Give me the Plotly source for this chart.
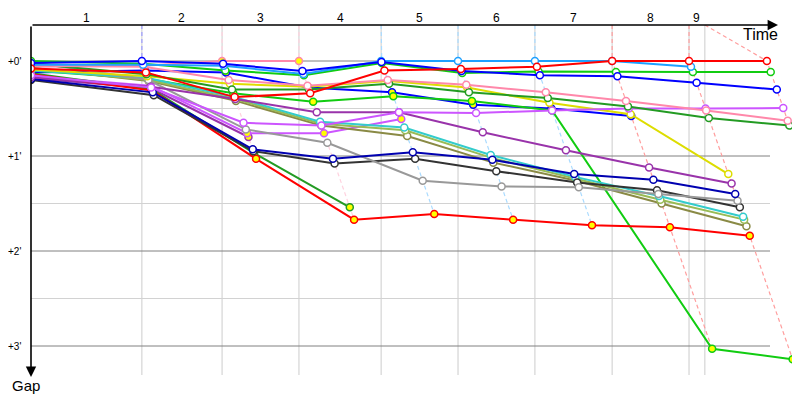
import plotly.graph_objects as go

# ── data ────────────────────────────────────────────────────────────
# time (min) at which the leader passes each checkpoint, C0 = start
checkpoint_times = [0.0, 3.36, 5.79, 8.12, 10.61, 12.94, 15.27, 17.61, 19.94, 22.30]
lap_marks = [3.36, 5.79, 8.12, 10.61, 12.94, 15.27, 17.61, 19.94, 20.42]
lap_labels = ["1", "2", "3", "4", "5", "6", "7", "8", "9"]
gap_ticks = [0, 1, 2, 3]
gap_tick_text = ["+0'", "+1'", "+2'", "+3'"]

N = None
# gap to leader (min) at C0..C9
gaps_red       = [0.08, 0.12, 0.38, 0.34, 0.10, 0.085, 0.06, 0.0, 0.0, 0.0]
gaps_blue      = [0.02, 0.0, 0.03, 0.105, 0.01, 0.105, 0.15, 0.16, 0.23, 0.30]
gaps_sky       = [0.04, 0.04, 0.05, 0.137, 0.0, 0.0, 0.0, 0.0, 0.06, N]
gaps_lime      = [0.0, 0.03, 0.10, 0.15, 0.02, 0.126, 0.11, 0.116, 0.116, 0.116]
gaps_pink      = [0.05, 0.06, 0.20, 0.26, 0.20, 0.25, 0.33, 0.42, 0.52, 0.63]
gaps_forest    = [0.03, 0.14, 0.30, 0.30, 0.24, 0.33, 0.39, 0.48, 0.60, 0.68]
gaps_magenta   = [0.15, 0.28, 0.65, 0.68, 0.54, 0.547, 0.52, 0.50, 0.50, 0.495]
gaps_yellow    = [0.09, 0.16, 0.24, 0.27, 0.21, 0.28, 0.44, 0.56, 1.19, N]
gaps_purple    = [0.17, 0.27, 0.40, 0.54, 0.54, 0.75, 0.94, 1.12, 1.29, N]
gaps_navy      = [0.19, 0.33, 0.93, 1.03, 0.96, 1.04, 1.19, 1.25, 1.40, N]
gaps_gray      = [0.01, 0.20, 0.72, 0.86, 1.26, 1.32, 1.33, 1.40, 1.47, N]
gaps_black     = [0.20, 0.36, 0.95, 1.08, 1.03, 1.16, 1.28, 1.36, 1.54, N]
gaps_cyan      = [0.10, 0.18, 0.38, 0.64, 0.70, 0.99, 1.22, 1.42, 1.64, N]
gaps_ygreen    = [0.08, 0.20, 0.40, 0.66, 0.73, 1.02, 1.24, 1.46, 1.67, N]
gaps_olive     = [0.07, 0.21, 0.42, 0.68, 0.79, 1.07, 1.26, 1.50, 1.74, N]
gaps_red_b     = [0.14, 0.31, 1.03, 1.67, 1.61, 1.67, 1.73, 1.75, 1.84, N]
gaps_lime_b    = [0.10, 0.19, 0.34, 0.43, 0.37, 0.42, 0.52, 3.03, 3.14, N]
gaps_forest_b  = [0.13, 0.30, 0.97, 1.54, N, N, N, N, N, N]
gaps_blue_b    = [0.12, 0.10, 0.12, 0.28, 0.33, 0.46, 0.50, 0.58, N, N]
gaps_magenta_b = [0.16, 0.26, 0.76, 0.76, 0.61, N, N, N, N, N]
gaps_pink_b    = [0.06, 0.05, 0.0, 0.0, N, N, N, N, N, N]
gaps_purple_b  = [0.18, 0.29, 0.80, N, N, N, N, N, N, N]

WHITE, YELLOW = "#ffffff", "#ffff00"
riders = [
    (gaps_red, "#ff0000", WHITE),
    (gaps_blue, "#0000ff", WHITE),
    (gaps_sky, "#1ea0ff", WHITE),
    (gaps_lime, "#11cc11", WHITE),
    (gaps_pink, "#ff88aa", WHITE),
    (gaps_forest, "#239b23", WHITE),
    (gaps_magenta, "#cc55ff", WHITE),
    (gaps_yellow, "#dddd00", WHITE),
    (gaps_purple, "#9933aa", WHITE),
    (gaps_navy, "#0000b0", WHITE),
    (gaps_gray, "#999999", WHITE),
    (gaps_black, "#333333", WHITE),
    (gaps_cyan, "#33cccc", WHITE),
    (gaps_ygreen, "#99bb55", WHITE),
    (gaps_olive, "#8a8a45", WHITE),
    (gaps_red_b, "#ff0000", YELLOW),
    (gaps_lime_b, "#11cc11", YELLOW),
    (gaps_forest_b, "#239b23", YELLOW),
    (gaps_blue_b, "#0000ff", YELLOW),
    (gaps_magenta_b, "#cc55ff", YELLOW),
    (gaps_pink_b, "#ff88aa", YELLOW),
    (gaps_purple_b, "#9933aa", YELLOW),
]

# ── layout helpers (page pixel -> data / paper) ─────────────────────
PAGE_OFFSET = 8            # browser body margin
X0_PX, Y0_PX = 31, 61      # page px of time 0 / gap 0
PX_PER_MIN, PX_PER_GAP = 33.0, 95.0
PAGE_W, PAGE_H = 800, 400
TOP_PX = 25
FONT = "Liberation Sans, Arial, sans-serif"


def px2x(px):
    return (px - X0_PX) / PX_PER_MIN


def py2y(py):
    return (py - Y0_PX) / PX_PER_GAP


def px2paper(px):
    return (px - X0_PX) / (PAGE_W - X0_PX)


def py2paper(py):
    return (PAGE_H - py) / (PAGE_H - TOP_PX)


def lighten(hexcol, t=0.6):
    r, g, b = (int(hexcol[i:i + 2], 16) for i in (1, 3, 5))
    r, g, b = (round(c + (255 - c) * t) for c in (r, g, b))
    return f"rgb({r},{g},{b})"


top = py2y(TOP_PX)
grid_end_x = px2x(770)
grid_bottom = py2y(375)

fig = go.Figure()

# checkpoint connectors (dashed)
for k in range(1, len(checkpoint_times)):
    pts = [(g[k], i) for i, (g, c, f) in enumerate(riders) if g[k] is not None]
    pts.sort(key=lambda p: (p[0], p[1]))
    leader_col = riders[pts[0][1]][1]
    xs = [lap_marks[k - 1]] + [checkpoint_times[k] + g for g, _ in pts]
    ys = [top] + [g for g, _ in pts]
    fig.add_trace(go.Scatter(
        x=xs, y=ys, mode="lines",
        line=dict(color=lighten(leader_col, 0.62), width=1.2, dash="4px,3px"),
        hoverinfo="skip", showlegend=False,
    ))

# rider lines
for gaps, col, fill in reversed(riders):
    xs = [checkpoint_times[k] + g if (g is not None and k > 0) else (0.0 if g is not None else None)
          for k, g in enumerate(gaps)]
    fig.add_trace(go.Scatter(
        x=xs, y=gaps, mode="lines+markers",
        line=dict(color=col, width=2),
        marker=dict(size=7, color=fill, line=dict(color=col, width=1.5)),
        hoverinfo="skip", showlegend=False,
    ))

shapes = []
for t in lap_marks:
    shapes.append(dict(type="line", x0=t, x1=t, y0=top, y1=grid_bottom,
                       line=dict(color="#cccccc", width=1), layer="below"))
for v in [0.5, 1.5, 2.5]:
    shapes.append(dict(type="line", x0=0, x1=grid_end_x, y0=v, y1=v,
                       line=dict(color="#d2d2d2", width=1), layer="below"))
for v in gap_ticks:
    shapes.append(dict(type="line", x0=0, x1=grid_end_x, y0=v, y1=v,
                       line=dict(color="#808080", width=1), layer="below"))

annotations = []
# axes with arrows
annotations.append(dict(x=px2x(778), y=top, ax=0, ay=top, xref="x", yref="y",
                        axref="x", ayref="y", text="", showarrow=True,
                        arrowhead=2, arrowsize=1.3, arrowwidth=1.6, arrowcolor="black"))
annotations.append(dict(x=0, y=py2y(377), ax=0, ay=top, xref="x", yref="y",
                        axref="x", ayref="y", text="", showarrow=True,
                        arrowhead=2, arrowsize=1.3, arrowwidth=1.6, arrowcolor="black"))
annotations.append(dict(x=px2paper(760), y=py2paper(35), xref="paper", yref="paper",
                        xanchor="center", yanchor="middle",
                        text="Time", showarrow=False,
                        font=dict(family=FONT, size=16, color="black")))
annotations.append(dict(x=px2paper(26), y=py2paper(385), xref="paper", yref="paper",
                        xanchor="center", yanchor="middle",
                        text="Gap", showarrow=False,
                        font=dict(family=FONT, size=15, color="black")))
edges = [0.0] + lap_marks
for i, lab in enumerate(lap_labels):
    annotations.append(dict(x=(edges[i] + edges[i + 1]) / 2, y=py2paper(18),
                            xref="x", yref="paper", xanchor="center", yanchor="middle",
                            text=lab, showarrow=False,
                            font=dict(family=FONT, size=12, color="black")))
for v, txt in zip(gap_ticks, gap_tick_text):
    annotations.append(dict(x=px2paper(23), y=v, xref="paper", yref="y", text=txt,
                            showarrow=False, xanchor="right", yanchor="middle",
                            font=dict(family=FONT, size=10, color="black")))

fig.update_layout(
    width=PAGE_W - PAGE_OFFSET, height=PAGE_H - PAGE_OFFSET,
    margin=dict(l=X0_PX - PAGE_OFFSET, r=0, t=TOP_PX - PAGE_OFFSET, b=0),
    paper_bgcolor="white", plot_bgcolor="white",
    xaxis=dict(range=[0, px2x(PAGE_W)], visible=False, fixedrange=True),
    yaxis=dict(range=[py2y(PAGE_H), top], visible=False, fixedrange=True),
    shapes=shapes, annotations=annotations,
    showlegend=False,
)

fig.write_html("out.html")
